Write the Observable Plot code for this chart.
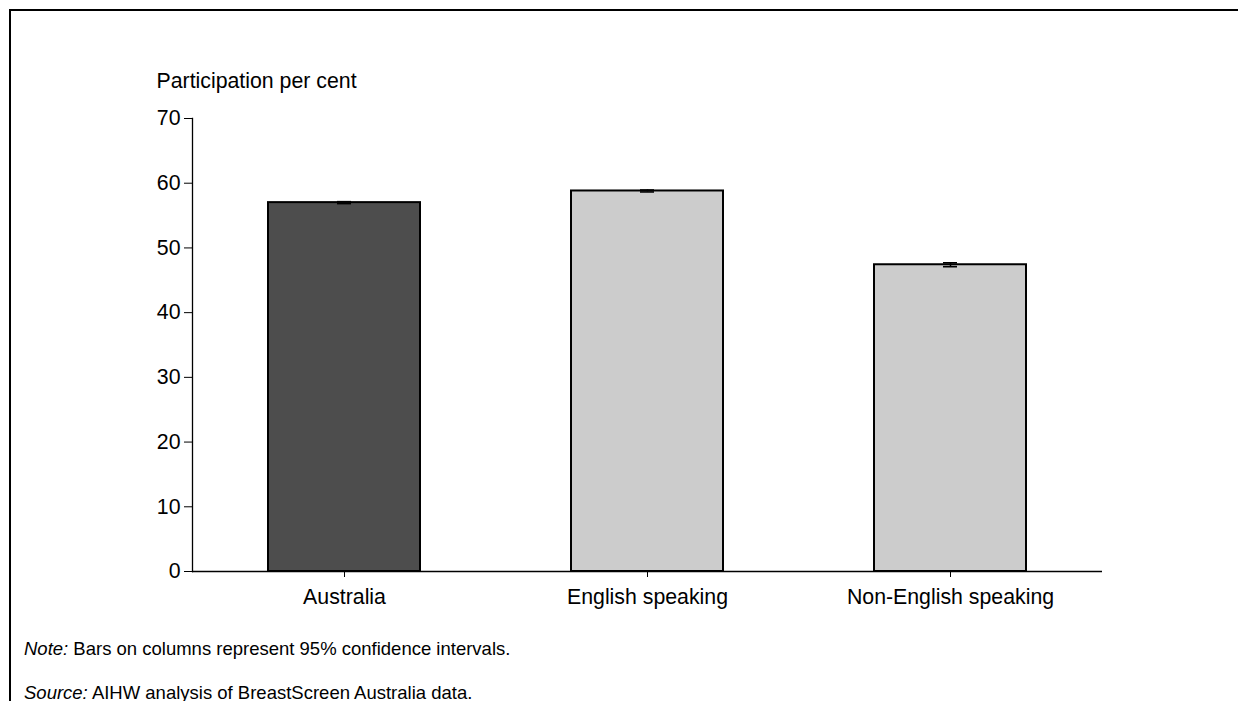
<!DOCTYPE html>
<html>
<head>
<meta charset="utf-8">
<script src="https://cdn.jsdelivr.net/npm/d3@7"></script>
<script src="https://cdn.jsdelivr.net/npm/@observablehq/plot@0.6"></script>
<style>
  html, body { margin: 0; padding: 0; background: #fff; overflow: hidden; width: 1238px; height: 701px; }
  body { font-family: "Liberation Sans", Arial, sans-serif; position: relative; }
  #frame { position: absolute; left: 9px; top: 9px; width: 1300px; height: 800px; border: 2.5px solid #000; box-sizing: border-box; }
  #chart { position: absolute; left: 0; top: 0; }
  .note { position: absolute; left: 24px; font-size: 18.5px; line-height: 1; color: #000; white-space: nowrap; }
</style>
</head>
<body>
<div id="frame"></div>
<div id="chart"></div>
<div class="note" style="top:640px"><i>Note:</i> Bars on columns represent 95% confidence intervals.</div>
<div class="note" style="top:684px"><i>Source:</i> AIHW analysis of BreastScreen Australia data.</div>
<script>
const categories = ["Australia", "English speaking", "Non-English speaking"];
const values = [57.0, 58.8, 47.4];
const ciLow = [56.85, 58.65, 47.1];
const ciHigh = [57.15, 58.95, 47.7];
const fills = ["#4d4d4d", "#cccccc", "#cccccc"];
const yTicks = [0, 10, 20, 30, 40, 50, 60, 70];
const yLabel = "Participation per cent";

const data = categories.map((c, i) => ({cat: c, v: values[i], lo: ciLow[i], hi: ciHigh[i], fill: fills[i]}));

const FS = 21.3;
const chart = Plot.plot({
  width: 1238,
  height: 620,
  marginTop: 118,
  marginBottom: 49,
  marginLeft: 192,
  marginRight: 136,
  style: {fontFamily: "'Liberation Sans', Arial, sans-serif", fontSize: FS + "px", color: "#000", background: "transparent", overflow: "visible"},
  x: {domain: categories, paddingInner: 0.5, paddingOuter: 0.25, label: null},
  y: {domain: [0, 70], label: null},
  marks: [
    Plot.barY(data, {x: "cat", y: "v", fill: "fill", stroke: "#000", strokeWidth: 2}),
    Plot.ruleX(data, {x: "cat", y1: "lo", y2: "hi", stroke: "#000", strokeWidth: 1.5}),
    Plot.tickY(data, {x: "cat", y: "lo", stroke: "#000", strokeWidth: 1.6, insetLeft: 69, insetRight: 69}),
    Plot.tickY(data, {x: "cat", y: "hi", stroke: "#000", strokeWidth: 1.6, insetLeft: 69, insetRight: 69}),
    Plot.ruleY([0], {stroke: "#000", strokeWidth: 1.5}),
    Plot.frame({anchor: "left", stroke: "#000", strokeWidth: 1.3}),
    Plot.axisY({ticks: yTicks, tickSize: 8, tickPadding: 4, fontSize: FS, label: null, stroke: "#000"}),
    Plot.axisX({tickSize: 6, tickPadding: 11, fontSize: FS, label: null, stroke: "#000"}),
    Plot.text([yLabel], {frameAnchor: "top-left", dx: -36, dy: -46, textAnchor: "start", fontSize: FS, fill: "#000"})
  ]
});
document.getElementById("chart").appendChild(chart);
</script>
</body>
</html>
